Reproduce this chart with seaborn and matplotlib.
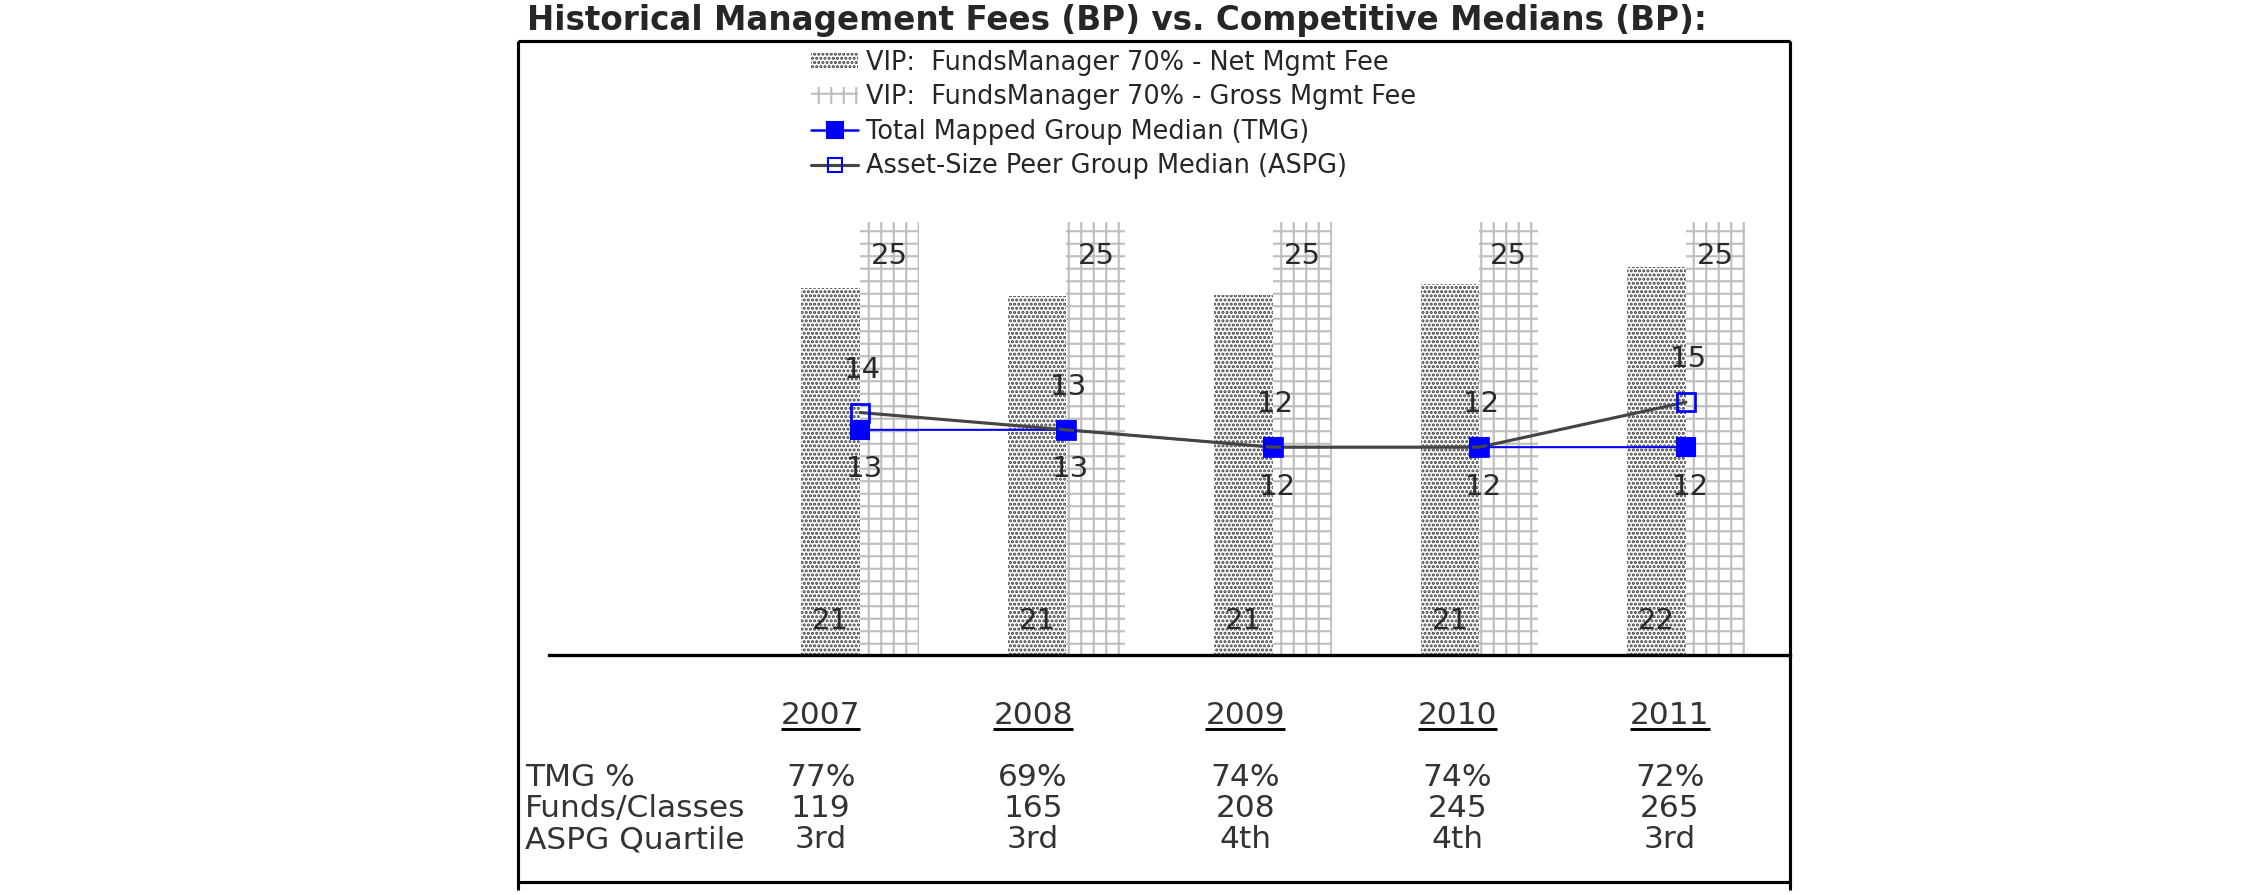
import numpy as np
import pandas as pd
import seaborn as sns
import matplotlib.pyplot as plt
from matplotlib.lines import Line2D
from matplotlib.patches import Patch

# values
years = ["2007", "2008", "2009", "2010", "2011"]
net_fee = [21.2, 20.7, 20.8, 21.4, 22.4]
gross_fee = [25, 25, 25, 25, 25]
tmg_median = [13, 13, 12, 12, 12]
aspg_median = [14, 13, 12, 12, 14.6]

tmg_pct = ["77%", "69%", "74%", "74%", "72%"]
funds_classes = ["119", "165", "208", "245", "265"]
aspg_quartile = ["3rd", "3rd", "4th", "4th", "3rd"]
row_labels = ["TMG %", "Funds/Classes", "ASPG Quartile"]

net_name = "VIP:  FundsManager 70% - Net Mgmt Fee"
gross_name = "VIP:  FundsManager 70% - Gross Mgmt Fee"
tmg_name = "Total Mapped Group Median (TMG)"
aspg_name = "Asset-Size Peer Group Median (ASPG)"
title = "Historical Management Fees (BP) vs. Competitive Medians (BP):"

W, H, DPI = 2250, 895, 150


def fx(px):
    return px / W


def fy(py):
    return 1 - py / H


sns.set_style("white")
plt.rcParams['font.family'] = ['DejaVu Sans']
plt.rcParams['hatch.linewidth'] = 1.0

fig = plt.figure(figsize=(W / DPI, H / DPI), dpi=DPI)
ax = fig.add_axes([fx(549), fy(655), fx(1790) - fx(549), fy(41) - fy(655)])

df = pd.DataFrame({
    'year': years * 2,
    'series': [net_name] * len(years) + [gross_name] * len(years),
    'fee': net_fee + gross_fee,
})
sns.barplot(data=df, x='year', y='fee', hue='series', palette=['white', 'white'],
            width=0.57, gap=0, saturation=1, legend=False, ax=ax)

net_bars, gross_bars = ax.containers[0], ax.containers[1]
for bar in net_bars:
    bar.set_hatch('......')
    bar.set_edgecolor('#3c3c3c')
    bar.set_linewidth(0)
for bar in gross_bars:
    bar.set_hatch('++')
    bar.set_edgecolor('#bdbdbd')
    bar.set_linewidth(0)

xpos = np.arange(len(years))
ax.plot(xpos, tmg_median, color='#0000ff', lw=1.0, marker='s', ms=8.5,
        mfc='#0000ff', mec='#0000ff', zorder=5)
ax.plot(xpos, aspg_median, color='#454545', lw=1.5, marker='s', ms=8.5,
        mfc='none', mec='#0000ff', mew=1.3, zorder=6)

lab = dict(fontsize=14, color='#2a2a2a', ha='center', va='center',
           textcoords='offset points', zorder=7)
for bar, v in zip(gross_bars, gross_fee):
    ax.annotate(f"{v:.0f}", (bar.get_x() + bar.get_width() / 2, bar.get_height()),
                xytext=(0, -16.3), **lab)
for bar, v in zip(net_bars, net_fee):
    ax.annotate(f"{v:.0f}", (bar.get_x() + bar.get_width() / 2, 0),
                xytext=(0, 16.2), **lab)
for x, v in zip(xpos, aspg_median):
    ax.annotate(f"{v:.0f}", (x, v), xytext=(1, 20.5), **lab)
for x, v in zip(xpos, tmg_median):
    ax.annotate(f"{v:.0f}", (x, v), xytext=(2, -19), **lab)

ax.set_xlim(-1.506, 4.504)
ax.set_ylim(0, 35.45)
ax.set_xticks([])
ax.set_yticks([])
ax.set_xlabel('')
ax.set_ylabel('')
for side in ['top', 'left', 'right']:
    ax.spines[side].set_visible(False)
ax.spines['bottom'].set_color('black')
ax.spines['bottom'].set_linewidth(1.6)
ax.patch.set_alpha(0)

# legend
handles = [
    Patch(facecolor='white', edgecolor='#3c3c3c', hatch='......', lw=0),
    Patch(facecolor='white', edgecolor='#bdbdbd', hatch='++', lw=0),
    Line2D([], [], color='#0000ff', lw=1.2, marker='s', ms=8, mfc='#0000ff', mec='#0000ff'),
    Line2D([], [], color='#454545', lw=1.5, marker='s', ms=6.5, mfc='none', mec='#0000ff'),
]
fig.legend(handles, [net_name, gross_name, tmg_name, aspg_name], loc='upper left',
           bbox_to_anchor=(fx(811), fy(50)), frameon=False, fontsize=12.3,
           handlelength=1.85, handleheight=0.6, handletextpad=0.3,
           labelspacing=0.33, borderpad=0, borderaxespad=0, numpoints=1)

# title and frame
fig.text(fx(527), fy(30), title, fontsize=15.7, fontweight='bold', va='baseline', ha='left')
frame = dict(color='black', lw=1.5, transform=fig.transFigure, solid_capstyle='butt')
fig.add_artist(Line2D([fx(518), fx(1790)], [fy(41), fy(41)], **frame))
fig.add_artist(Line2D([fx(518), fx(1790)], [fy(882), fy(882)], **frame))
fig.add_artist(Line2D([fx(518), fx(518)], [fy(41), fy(890)], **frame))
fig.add_artist(Line2D([fx(1790), fx(1790)], [fy(41), fy(890)], **frame))

# summary table under the chart
col_x = [-0.19 + 1.028 * i for i in range(len(years))]
row_y = [786, 817, 848]
tbl = dict(fontsize=15, color='#333333', va='baseline', transform=fig.transFigure)
year_texts = []
for cx, yr, a, b, c in zip(col_x, years, tmg_pct, funds_classes, aspg_quartile):
    px = ax.transData.transform((cx, 0))[0] / fig.bbox.width
    year_texts.append(fig.text(px, fy(724), yr, ha='center', **tbl))
    for ry, val in zip(row_y, [a, b, c]):
        fig.text(px, fy(ry), val, ha='center', **tbl)
for ry, name in zip(row_y, row_labels):
    fig.text(fx(525), fy(ry), name, ha='left', **tbl)

fig.canvas.draw()
renderer = fig.canvas.get_renderer()
for t in year_texts:
    bb = t.get_window_extent(renderer)
    fig.add_artist(Line2D([bb.x0 / W, bb.x1 / W], [fy(729), fy(729)], color='black',
                          lw=1.4, transform=fig.transFigure, solid_capstyle='butt'))

fig.savefig('out.png', dpi=DPI)
